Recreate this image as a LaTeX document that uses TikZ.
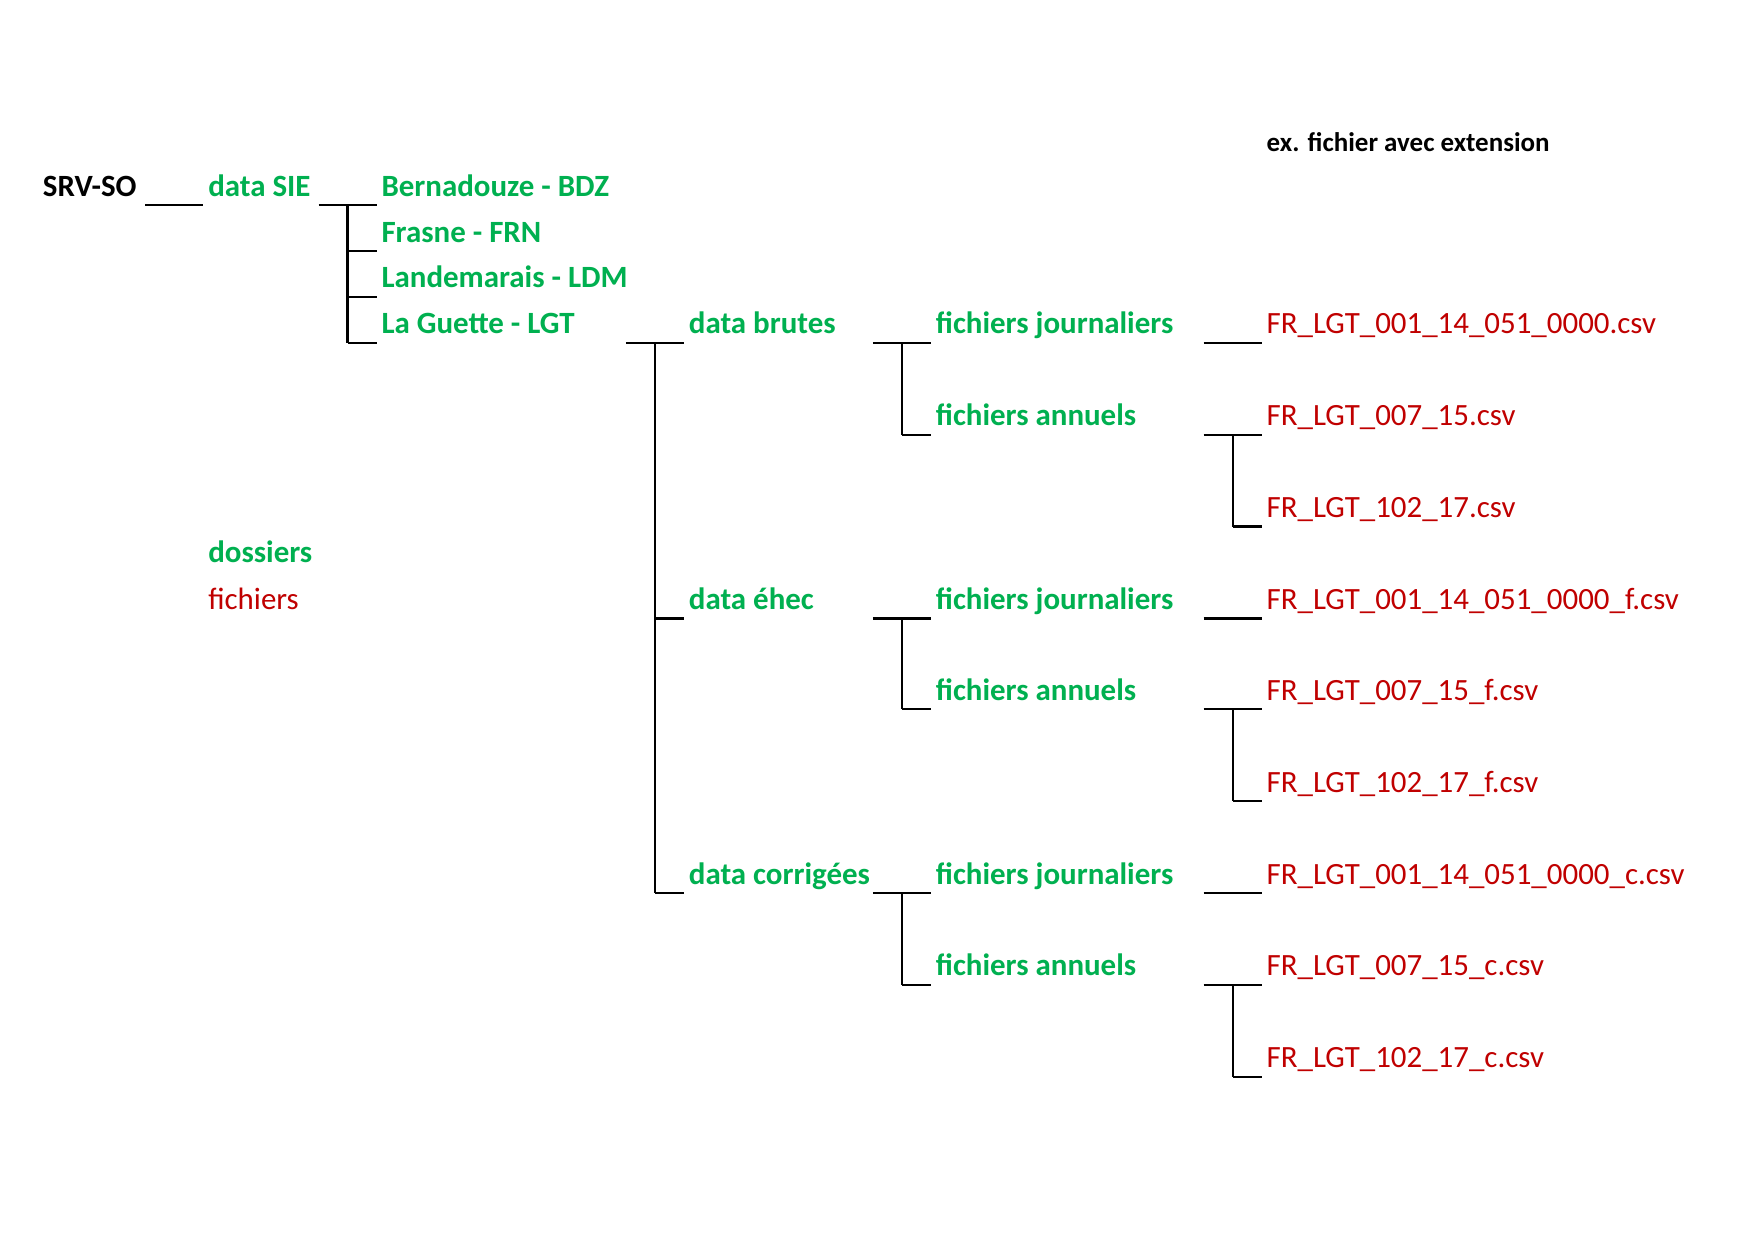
\documentclass[tikz,border=0pt]{standalone}
\usepackage{fontspec}
\setmainfont{Carlito}
\usetikzlibrary{calc}
\definecolor{dgreen}{HTML}{00B050}
\definecolor{dred}{HTML}{C00000}
\tikzset{
  lbl/.style={inner sep=0pt, anchor=base west, font=\fontsize{14.9}{18}\selectfont},
  folder/.style={lbl, text=dgreen, font=\fontsize{14.9}{18}\selectfont\bfseries},
  filef/.style={lbl, text=dred},
  rootf/.style={lbl, text=black, font=\fontsize{14.9}{18}\selectfont\bfseries},
  treeline/.style={draw=black, line width=1.1pt},
}
\newcommand\myfirst[1]{\draw[treeline] ($(#1.base west)+(-56,8)$) -- ($(#1.base west)+(-4,8)$);}
\newcommand\mybranch[1]{\draw[treeline] ($(#1.base west)+(-30,8)$) -- ($(#1.base west)+(-4,8)$);}
\newcommand\mybar[2]{\draw[treeline] ($(#1.base west)+(-30,8)$) -- ($(#2.base west)+(-30,8)$);}
\begin{document}
\begin{tikzpicture}[x=0.18925mm, y=-0.18973mm]
\useasboundingbox[fill=white] (0,0) rectangle (297mm,-210mm);
% header
\node[rootf, font=\fontsize{13}{16}\selectfont\bfseries] (ex) at (1133,135) {ex. fichier avec extension};
% level 0-2
\node[rootf] (srv) at (38,175) {SRV-SO};
\node[folder] (sie) at (186,175) {data SIE};
\node[folder] (bdz) at (341,175) {Bernadouze - BDZ};
\node[folder] (frn) at (341,216) {Frasne - FRN};
\node[folder] (ldm) at (341,257) {Landemarais - LDM};
\node[folder] (lgt) at (341,298) {La Guette - LGT};
% level 3
\node[folder] (brutes) at (616,298) {data brutes};
\node[folder] (ehec) at (616,544) {data éhec};
\node[folder] (corr) at (616,789) {data corrigées};
% level 4
\node[folder] (fj1) at (837,298) {fichiers journaliers};
\node[folder] (fa1) at (837,380) {fichiers annuels};
\node[folder] (fj2) at (837,544) {fichiers journaliers};
\node[folder] (fa2) at (837,625) {fichiers annuels};
\node[folder] (fj3) at (837,789) {fichiers journaliers};
\node[folder] (fa3) at (837,871) {fichiers annuels};
% files
\node[filef] (f11) at (1133,298) {FR\_LGT\_001\_14\_051\_0000.csv};
\node[filef] (f12) at (1133,380) {FR\_LGT\_007\_15.csv};
\node[filef] (f13) at (1133,462) {FR\_LGT\_102\_17.csv};
\node[filef] (f21) at (1133,544) {FR\_LGT\_001\_14\_051\_0000\_f.csv};
\node[filef] (f22) at (1133,625) {FR\_LGT\_007\_15\_f.csv};
\node[filef] (f23) at (1133,707) {FR\_LGT\_102\_17\_f.csv};
\node[filef] (f31) at (1133,789) {FR\_LGT\_001\_14\_051\_0000\_c.csv};
\node[filef] (f32) at (1133,871) {FR\_LGT\_007\_15\_c.csv};
\node[filef] (f33) at (1133,953) {FR\_LGT\_102\_17\_c.csv};
% legend
\node[folder] (leg1) at (186,502) {dossiers};
\node[filef] (leg2) at (186,544) {fichiers};
% connectors
\myfirst{sie}
\myfirst{bdz}
\mybar{bdz}{lgt}
\mybranch{frn}\mybranch{ldm}\mybranch{lgt}
\myfirst{brutes}
\mybar{brutes}{corr}
\mybranch{ehec}\mybranch{corr}
\myfirst{fj1}\mybar{fj1}{fa1}\mybranch{fa1}
\myfirst{fj2}\mybar{fj2}{fa2}\mybranch{fa2}
\myfirst{fj3}\mybar{fj3}{fa3}\mybranch{fa3}
\myfirst{f11}
\myfirst{f12}\mybar{f12}{f13}\mybranch{f13}
\myfirst{f21}
\myfirst{f22}\mybar{f22}{f23}\mybranch{f23}
\myfirst{f31}
\myfirst{f32}\mybar{f32}{f33}\mybranch{f33}
\end{tikzpicture}
\end{document}
